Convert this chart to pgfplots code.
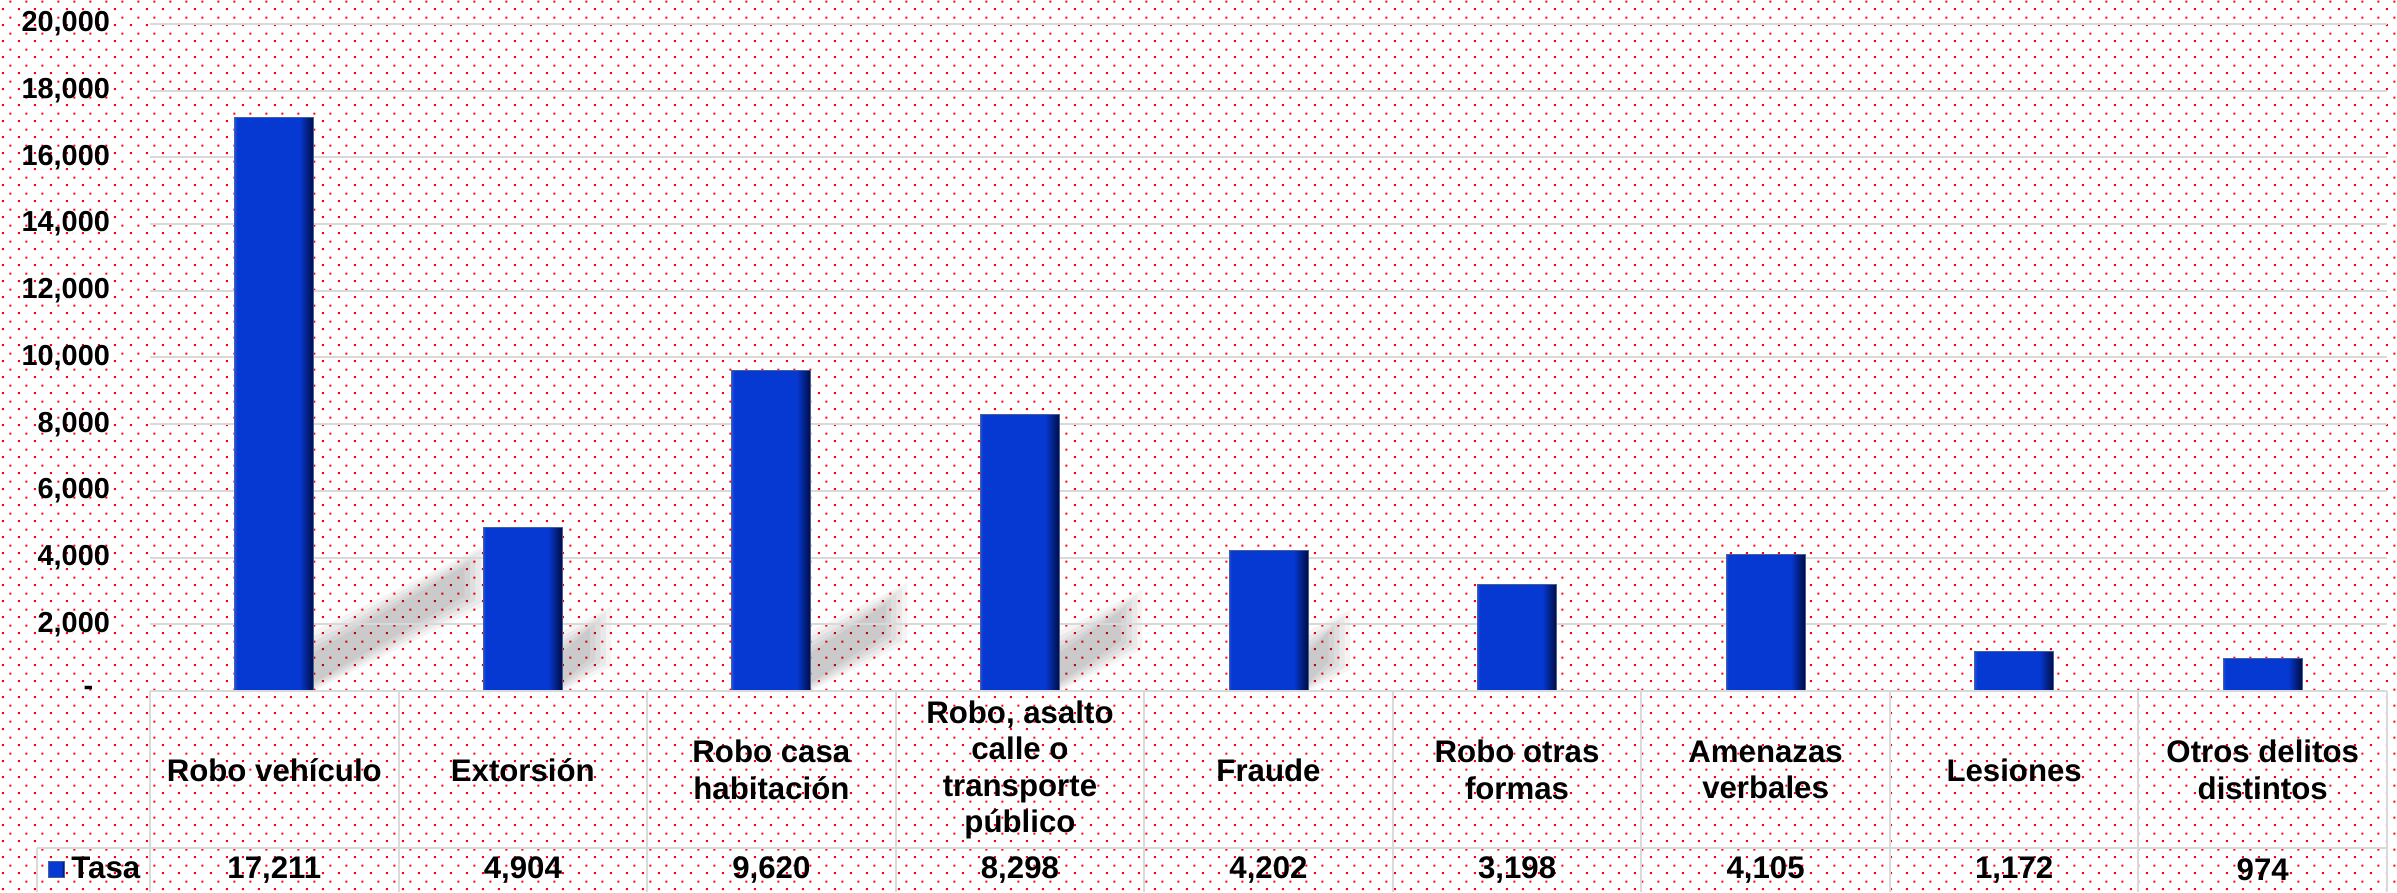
\documentclass[border=0pt]{standalone}
\usepackage{fontspec}
\setmainfont{Liberation Sans}
\usepackage{pgfplots}
\pgfplotsset{compat=1.18}
\usepackage{pgfplotstable}
\usetikzlibrary{patterns}

\definecolor{barblue}{HTML}{0638D2}
\definecolor{barlight}{HTML}{1E4EE6}
\definecolor{bardark}{HTML}{000C40}
\definecolor{barline}{HTML}{4A5E9A}
\definecolor{gridgray}{HTML}{D9D9D9}

% dotted red background, 16px staggered grid (1px = 0.3bp)
\pgfdeclarepatternformonly{reddots}{\pgfpointorigin}{\pgfpoint{4.8bp}{4.8bp}}{\pgfpoint{4.8bp}{4.8bp}}{
  \pgfpathrectangle{\pgfpoint{0.9bp}{0.9bp}}{\pgfpoint{0.62bp}{0.62bp}}
  \pgfpathrectangle{\pgfpoint{3.3bp}{3.3bp}}{\pgfpoint{0.62bp}{0.62bp}}
  \pgfusepath{fill}
}

% bar body: flat blue with a dark right edge
\pgfdeclarehorizontalshading{barshade}{100bp}{color(0bp)=(barlight); color(25bp)=(barlight); color(26.5bp)=(barblue); color(66bp)=(barblue); color(75bp)=(bardark); color(100bp)=(bardark)}

\pgfplotstableread{
x v
0 17211
1 4904
2 9620
3 8298
4 4202
5 3198
6 4105
7 1172
8 974
}\tasa

\newcommand{\tablefont}{\fontsize{9.4}{11}\selectfont\bfseries}

% soft floor shadow to the right of a bar (value in thousands)
\newcommand{\barshadow}[2]{%
  \pgfmathsetmacro{\xr}{(#1+0.5)*74.567+11.85}%
  \pgfmathsetmacro{\shL}{0.30*#2*10.005}%
  \foreach \k in {0,1.6,3.2,4.8,6.4}{%
    \fill[black, opacity=0.045]
      (\xr bp, \k*0.4 bp) -- (\xr bp, 18bp-\k bp)
      -- (\xr bp+\shL bp-\k bp, 18bp-\k bp+0.5*\shL bp)
      -- (\xr bp+\shL bp-\k bp, \k*0.4bp+0.5*\shL bp) -- cycle;
  }%
}

\begin{document}
\begin{tikzpicture}
\fill[white] (-45bp,-60.3bp) rectangle (674.1bp,207.3bp);
\fill[pattern=reddots, pattern color=red] (-45bp,-60.3bp) rectangle (674.1bp,207.3bp);

\barshadow{0}{17.211}
\barshadow{1}{4.904}
\barshadow{2}{9.620}
\barshadow{3}{8.298}
\barshadow{4}{4.202}

\begin{axis}[
    at={(0,0)}, anchor=south west,
    scale only axis,
    width=671.1bp, height=200.1bp,
    xmin=-0.5, xmax=8.5,
    ymin=0, ymax=20000,
    clip=false,
    axis line style={draw=none},
    major tick length=0pt,
    scaled y ticks=false,
    ymajorgrids=true,
    grid style={gridgray, line width=0.6bp},
    ytick={0,2000,...,20000},
    yticklabels={{-\kern5bp},{2,000},{4,000},{6,000},{8,000},{10,000},{12,000},{14,000},{16,000},{18,000},{20,000}},
    yticklabel style={font=\fontsize{8.7}{10}\selectfont\bfseries, anchor=east, xshift=-8.5bp},
    xtick={0,...,8},
    xticklabels={{Robo vehículo},{Extorsión},{Robo casa\\habitación},{Robo, asalto\\calle o\\transporte\\público},{Fraude},{Robo otras\\formas},{Amenazas\\verbales},{Lesiones},{Otros delitos\\distintos}},
    xticklabel style={font=\tablefont, align=center, anchor=center, yshift=-23.7bp},
    /pgf/number format/assume math mode=true,
    legend style={at={(axis description cs:-0.046,-0.268)}, anchor=west, draw=none, fill=none,
        inner sep=0pt, font=\tablefont, column sep=0pt},
]
% one plot per bar, so that each bar gets its own shading
\pgfplotsinvokeforeach{0,...,8}{
  \addplot[ybar, bar width=23.7bp, draw=barline, line width=0.3bp,
      shade, shading=barshade, forget plot,
      restrict expr to domain={\thisrow{x}}{#1:#1}]
      table[x=x, y=v] {\tasa};
}
\addlegendimage{legend image code/.code={
    \shade[shading=barshade, draw=barline, line width=0.3bp] (0bp,-2.4bp) rectangle (4.8bp,2.4bp);}}
\addlegendentry{Tasa}
\addplot[draw=none, mark=none, forget plot,
    point meta=explicit,
    nodes near coords={\pgfmathprintnumber[fixed, precision=0, 1000 sep={,}]{\pgfplotspointmeta}},
    every node near coord/.append style={font=\tablefont, anchor=center}]
    table[x=x, y expr=-5367, meta=v] {\tasa};
\end{axis}

% data table borders
\draw[gridgray, line width=0.6bp] (0,0) -- (671.1bp,0);
\draw[gridgray, line width=0.6bp] (-33.9bp,-47.1bp) -- (671.1bp,-47.1bp);
\draw[gridgray, line width=0.6bp] (-33.9bp,-47.1bp) -- (-33.9bp,-60.3bp);
\foreach \i in {0,...,9}{
  \draw[gridgray, line width=0.6bp] (\i*74.567bp,0) -- (\i*74.567bp,-60.3bp);
}

\pgfresetboundingbox
\path[use as bounding box] (-45bp,-60.3bp) rectangle (674.1bp,207.3bp);
\end{tikzpicture}
\end{document}
